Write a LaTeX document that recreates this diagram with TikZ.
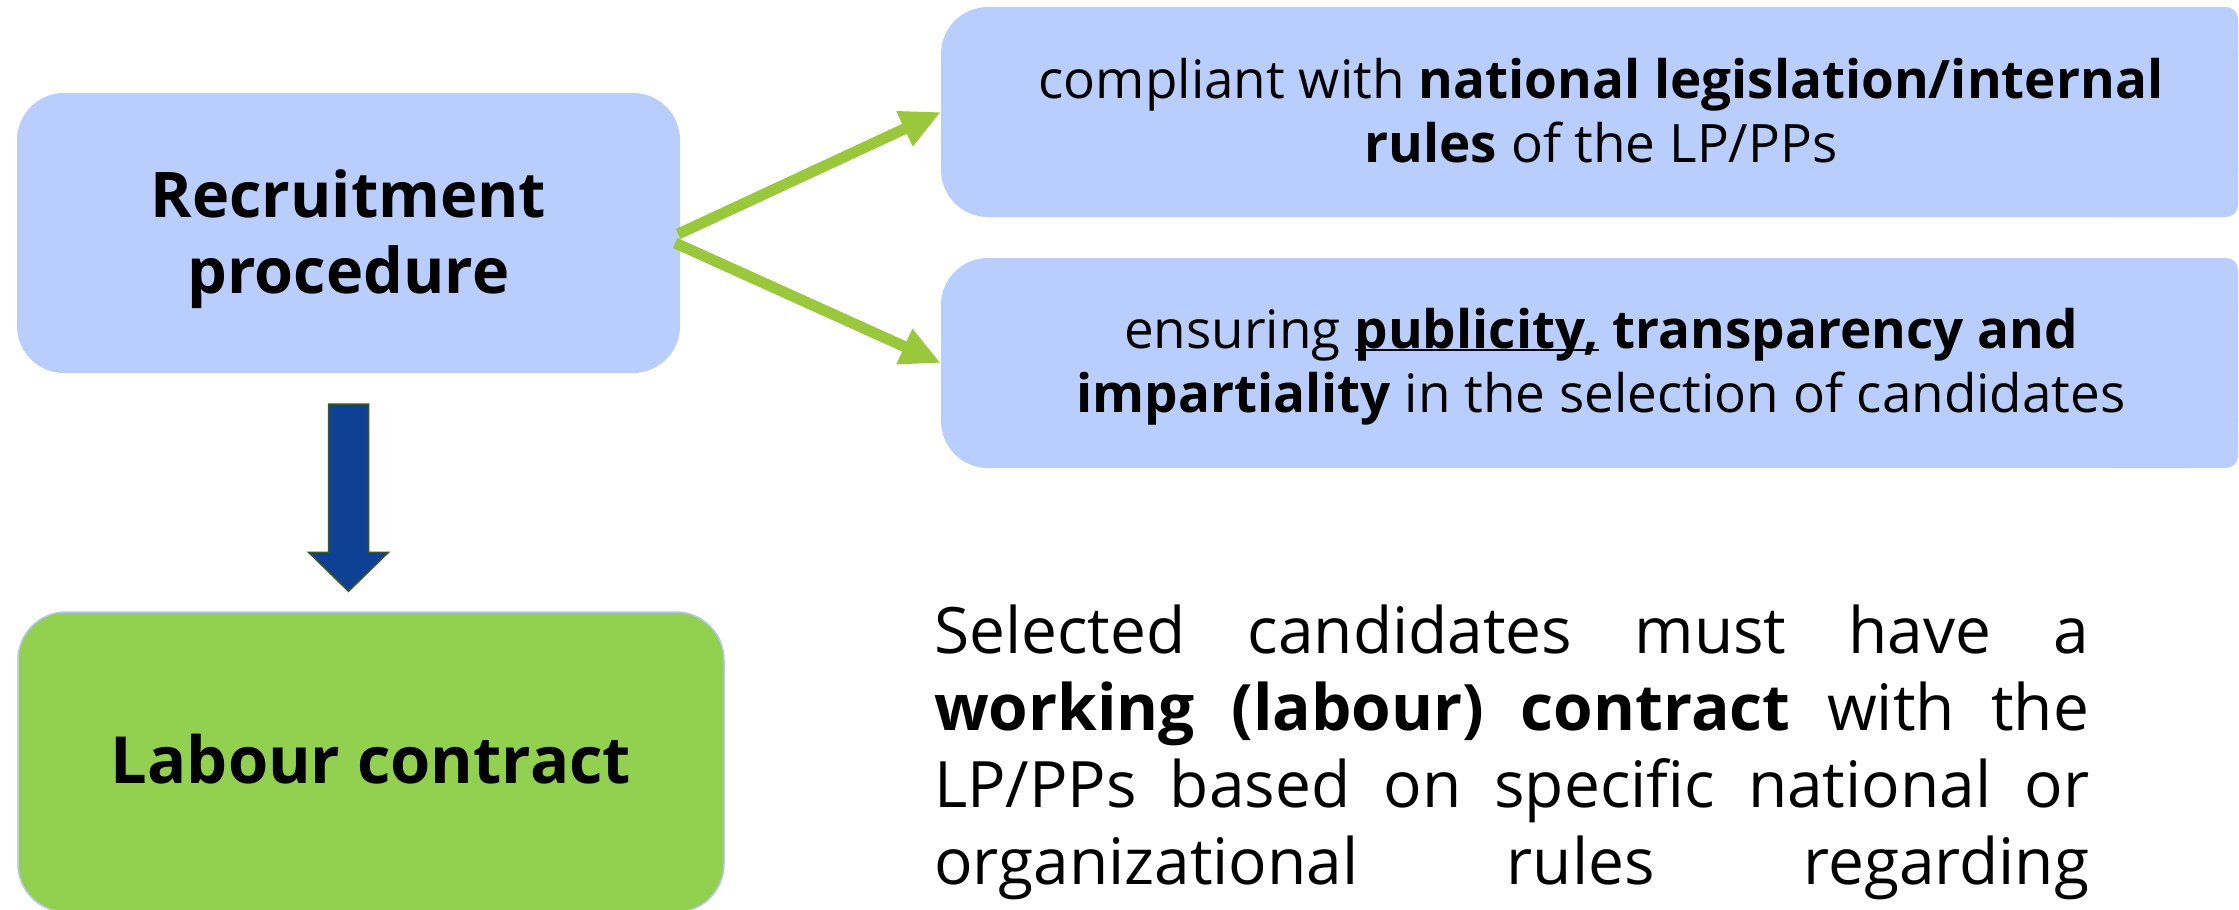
\documentclass[tikz,border=0pt]{standalone}
\usepackage{fontspec}
\setmainfont{Open Sans}
\usetikzlibrary{arrows.meta,calc}
\definecolor{boxblue}{RGB}{185,206,253}
\definecolor{boxgreen}{RGB}{146,208,80}
\definecolor{arrgreen}{RGB}{154,200,60}
\definecolor{arrblue}{RGB}{14,65,148}
\definecolor{arredge}{RGB}{60,85,35}
\definecolor{lcedge}{RGB}{180,199,240}
\newcommand{\baseul}[1]{\setbox0\hbox{#1}\rlap{\rule[-3pt]{\wd0}{2.5pt}}\box0\relax}
\begin{document}
\begin{tikzpicture}[x=1pt,y=-1pt,
  bluebox/.style={fill=boxblue, rounded corners=47pt, inner sep=0pt},
  txt/.style={anchor=base, inner sep=0pt},
  garrow/.style={draw=arrgreen, line width=11pt, -{Triangle[length=40pt,width=36pt]}}]
\useasboundingbox (0,0) rectangle (2239,910);
% left boxes
\node[bluebox, minimum width=663pt, minimum height=280pt] (rp) at (348.5,233) {};
\node[txt] (rpt) at (348.5,217) {\parbox[t]{620pt}{\centering\fontsize{63}{76}\selectfont\bfseries Recruitment\\procedure}};
\node[fill=boxgreen, draw=lcedge, line width=1.5pt, rounded corners=48pt, inner sep=0pt, minimum width=706pt, minimum height=300pt] (lc) at (371,762) {};
\node[txt] (lct) at (371,783) {\fontsize{65}{78}\selectfont\bfseries Labour contract};
% right boxes
\node[bluebox, minimum width=1297pt, minimum height=210pt] (c1) at (1589.5,112) {};
\fill[boxblue, rounded corners=12pt] (2100,7) rectangle (2238,217);
\node[txt] (c1t) at (1601,98) {\parbox[t]{1280pt}{\centering\fontsize{53}{64}\selectfont compliant with \textbf{national legislation/internal}\\\textbf{rules} of the LP/PPs}};
\node[bluebox, minimum width=1297pt, minimum height=210pt] (c2) at (1589.5,363) {};
\fill[boxblue, rounded corners=12pt] (2100,258) rectangle (2238,468);
\node[txt] (c2t) at (1601,348) {\parbox[t]{1280pt}{\centering\fontsize{53}{64}\selectfont ensuring \baseul{\textbf{publicity,}} \textbf{transparency and}\\\textbf{impartiality} in the selection of candidates}};
% green arrows
\draw[garrow] ([xshift=-2pt,yshift=-1pt]rp.east) -- (c1.west);
\draw[garrow] ([xshift=-5pt,yshift=-10pt]rp.east) -- (c2.west);
% blue block arrow
\coordinate (bs) at ($(rp.south)+(0,31)$);
\coordinate (be) at ($(bs|-lc.north)+(0,-20)$);
\filldraw[fill=arrblue, draw=arredge, line width=1.5pt]
  ($(bs)+(-20,0)$) -- ($(bs)+(20,0)$) -- ($(be)+(20,-39)$) -- ($(be)+(40,-39)$)
  -- (be) -- ($(be)+(-40,-39)$) -- ($(be)+(-20,-39)$) -- cycle;
% paragraph
\node[anchor=base west, inner sep=0pt] (para) at (934,653) {\parbox[t]{1155pt}{\fontsize{64}{77}\selectfont\parfillskip=0pt Selected candidates must have a\linebreak \textbf{working (labour) contract} with the\linebreak LP/PPs based on specific national or\linebreak organizational rules regarding}};
\end{tikzpicture}
\end{document}
